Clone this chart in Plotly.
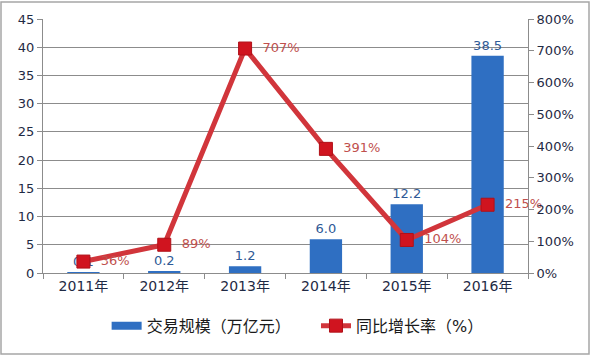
import plotly.graph_objects as go

categories = ["2011年", "2012年", "2013年", "2014年", "2015年", "2016年"]
volume = [0.1, 0.2, 1.2, 6.0, 12.2, 38.5]
volume_labels = ["0.1", "0.2", "1.2", "6.0", "12.2", "38.5"]
growth = [36, 89, 707, 391, 104, 215]
growth_labels = ["36%", "89%", "707%", "391%", "104%", "215%"]

FONT = "DejaVu Sans, Noto Sans CJK SC"
BAR_COLOR = "#2f6fc2"
NBSP = "\u00a0"

fig = go.Figure()
fig.add_trace(go.Bar(
    x=categories, y=volume, name="交易规模（万亿元）",
    marker=dict(color=BAR_COLOR, line=dict(width=0)),
    width=0.4, showlegend=False,
    text=volume_labels, textposition="outside", cliponaxis=False,
    textfont=dict(color="#2f5a96", size=13, family=FONT),
    yaxis="y",
))
# legend entry for the bars (wide rectangle swatch)
fig.add_trace(go.Scatter(
    x=[None], y=[None], name="交易规模（万亿元）" + NBSP * 4, mode="lines",
    line=dict(color=BAR_COLOR, width=8), yaxis="y",
))
fig.add_trace(go.Scatter(
    x=categories, y=growth, name="同比增长率（%）",
    mode="lines+markers+text",
    line=dict(color="#d1353b", width=5),
    marker=dict(symbol="square", size=13, color="#d0141f",
                line=dict(color="#b01018", width=1)),
    text=[NBSP * 2 + t for t in growth_labels], textposition="middle right",
    cliponaxis=False,
    textfont=dict(color="#c0504d", size=13, family=FONT),
    yaxis="y2",
))

fig.update_layout(
    width=592, height=356,
    margin=dict(l=43, r=64, t=19, b=83),
    paper_bgcolor="white", plot_bgcolor="white",
    font=dict(family=FONT, size=13, color="#1f2a44"),
    showlegend=True,
    legend=dict(orientation="h", x=0.525, xanchor="center",
                yref="container", y=0.085, yanchor="middle",
                font=dict(size=16, color="#1a1a1a", family=FONT),
                itemwidth=30, traceorder="normal"),
    xaxis=dict(
        showgrid=False, showline=True, linecolor="#8c8c8c", linewidth=1,
        ticks="outside", ticklen=5, tickcolor="#8c8c8c", tickson="boundaries",
        tickfont=dict(size=14, color="#1f2a44"), automargin=False,
    ),
    yaxis=dict(
        range=[0, 45], dtick=5, showgrid=True, gridcolor="#8c8c8c", gridwidth=1,
        showline=True, linecolor="#8c8c8c", ticks="outside", ticklen=5,
        tickcolor="#8c8c8c", zeroline=False, automargin=False,
        tickfont=dict(size=13, color="#1f2a44"),
    ),
    yaxis2=dict(
        range=[0, 800], dtick=100, overlaying="y", side="right",
        showgrid=False, showline=True, linecolor="#8c8c8c",
        ticks="outside", ticklen=5, tickcolor="#8c8c8c", ticksuffix="%",
        zeroline=False, automargin=False, tickfont=dict(size=13, color="#1f2a44"),
    ),
    shapes=[dict(type="rect", xref="paper", yref="paper",
                 x0=-42/485, x1=1 + 61/485, y0=-81/254, y1=1 + 17/254,
                 line=dict(color="#a6a6a6", width=1.5))],
)

fig.write_html("out.html", config={"displayModeBar": False},
               post_script="document.body.style.margin='0';")
